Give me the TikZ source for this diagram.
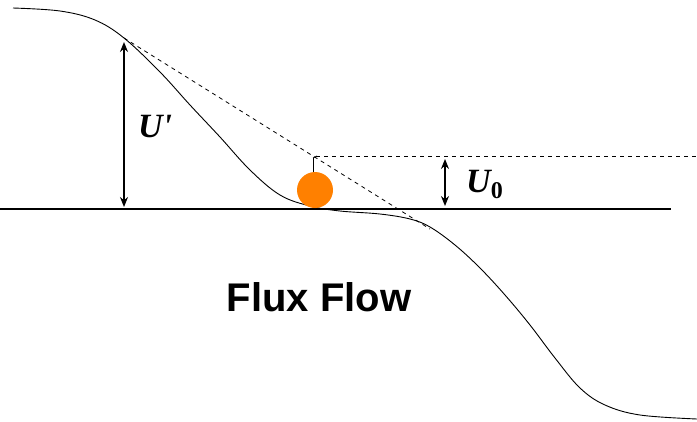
\documentclass[tikz,border=0pt]{standalone}
\usepackage{fontspec}
\setmainfont{Liberation Serif}
\setsansfont{Liberation Sans}
\usetikzlibrary{arrows.meta}
\definecolor{ballorange}{RGB}{255,128,0}
\begin{document}
\begin{tikzpicture}[x=1pt,y=-1pt,
  curveline/.style={line width=0.9pt,black},
  baseline/.style={line width=1.3pt,black},
  dashline/.style={line width=0.8pt,dash pattern=on 4pt off 4pt},
  dimarrow/.style={line width=1.3pt,{Stealth[length=10pt,width=8pt]}-{Stealth[length=10pt,width=8pt]}},
  lab/.style={font=\fontsize{34}{34}\selectfont\bfseries\itshape,inner sep=0pt}
]
\useasboundingbox (0,0) rectangle (697,421);
% coordinates
\coordinate (top) at (124,38);
\coordinate (tanend) at (430,229);
\coordinate (bl) at (0,209);
\coordinate (br) at (671,209);
\coordinate (hd1) at (316,156);
\coordinate (hd2) at (697,156);
\coordinate (uptop) at (124,42);
\coordinate (upbot) at (124,207);
\coordinate (u0top) at (445,159);
\coordinate (u0bot) at (445,206);
% potential curve
\draw[curveline] plot[smooth,tension=0.6] coordinates {
 (13,8) (60,11) (95,20) (124,38) (160,72) (190,105) (220,137) (250,170)
 (280,195) (310,206) (340,211) (380,214) (410,219) (430,227) (455,245)
 (480,268) (505,295) (530,325) (555,358) (580,388) (605,405) (640,415) (697,419)};
% base line
\draw[baseline] (bl) -- (br);
% dashed lines
\draw[dashline] (top) -- (tanend);
\draw[dashline] (hd1) -- (hd2);
\draw[line width=0.8pt] (313,158) -- (313,172);
\draw[line width=0.8pt] (313,158) -- (317,156);
% ball
\node[circle,fill=ballorange,minimum size=36pt,inner sep=0pt] (ball) at (315,190) {};
% arrows
\draw[dimarrow] (uptop) -- (upbot);
\draw[dimarrow] (u0top) -- (u0bot);
% labels
\node[lab,anchor=west] (uprime) at (138,127) {U\textquotesingle};
\node[lab,anchor=west] (uzero) at (466,184) {U\raisebox{-6pt}{\fontsize{24}{24}\selectfont\upshape 0}};
\node[font=\fontsize{40}{40}\selectfont\sffamily\bfseries,inner sep=0pt] (flux) at (319,297) {Flux Flow};
\end{tikzpicture}
\end{document}
